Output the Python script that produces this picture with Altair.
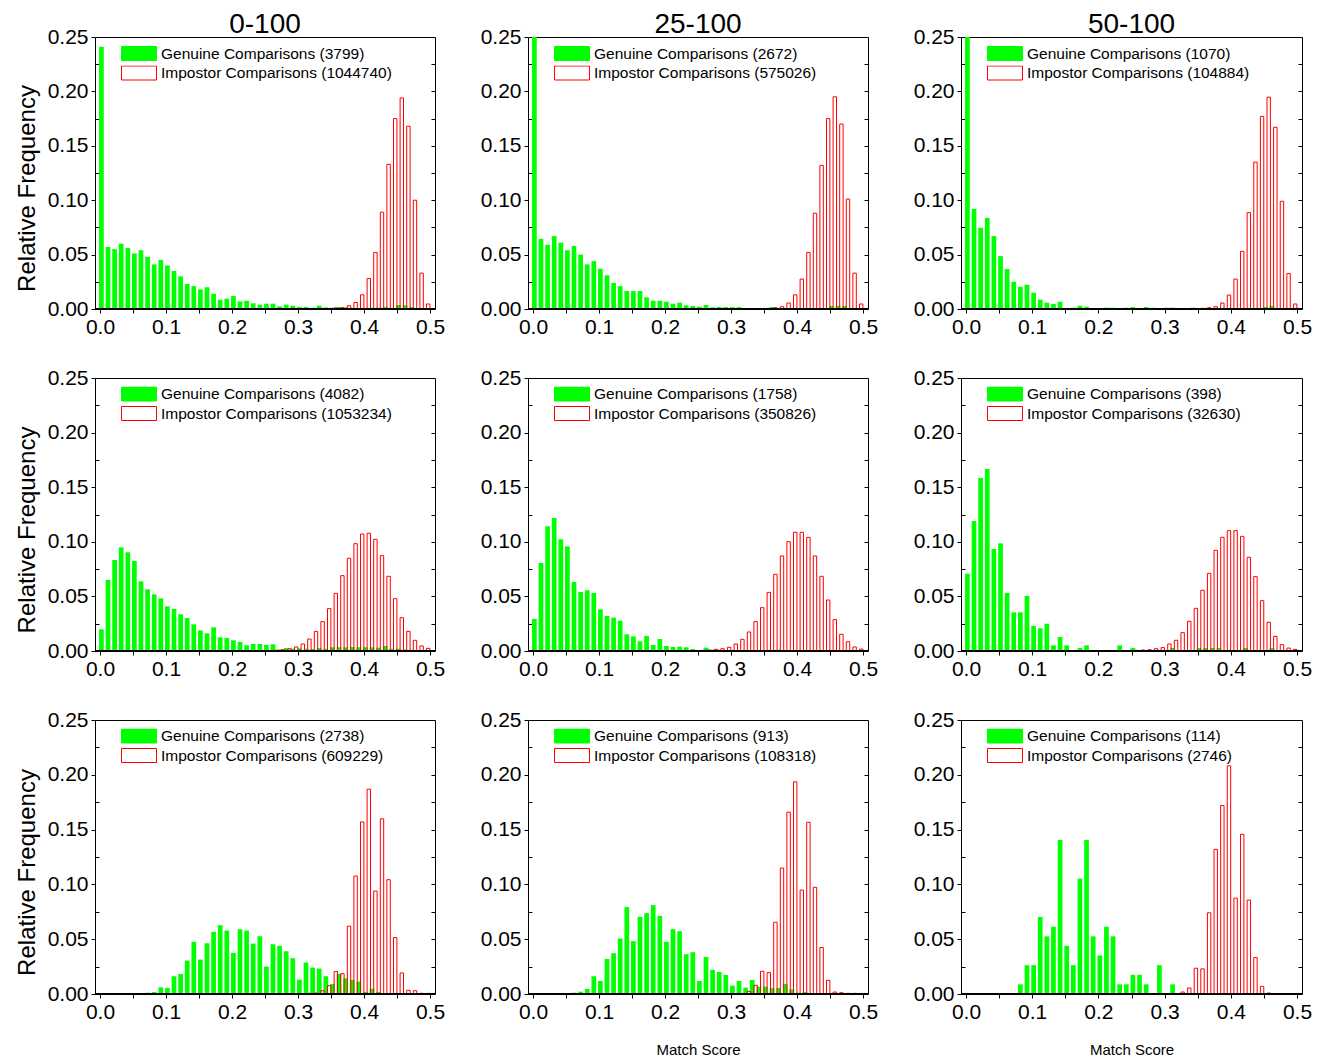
import altair as alt
import pandas as pd

# ---------------- data ----------------
BIN_START = [0.00, 0.01, 0.02, 0.03, 0.04, 0.05, 0.06, 0.07, 0.08, 0.09,
             0.10, 0.11, 0.12, 0.13, 0.14, 0.15, 0.16, 0.17, 0.18, 0.19,
             0.20, 0.21, 0.22, 0.23, 0.24, 0.25, 0.26, 0.27, 0.28, 0.29,
             0.30, 0.31, 0.32, 0.33, 0.34, 0.35, 0.36, 0.37, 0.38, 0.39,
             0.40, 0.41, 0.42, 0.43, 0.44, 0.45, 0.46, 0.47, 0.48, 0.49]

COLUMN_TITLES = ["0-100", "25-100", "50-100"]
GEN_COUNTS = [[3799, 2672, 1070], [4082, 1758, 398], [2738, 913, 114]]
IMP_COUNTS = [[1044740, 575026, 104884], [1053234, 350826, 32630], [609229, 108318, 2746]]

# row 1
G11 = [0.241, 0.057, 0.055, 0.060, 0.056, 0.051, 0.054, 0.048, 0.041, 0.045,
       0.040, 0.035, 0.030, 0.023, 0.021, 0.018, 0.020, 0.014, 0.0085, 0.0095,
       0.012, 0.007, 0.0076, 0.0052, 0.004, 0.0049, 0.0049, 0.0024, 0.004, 0.003,
       0.0018, 0.0018, 0.0012, 0.003, 0.0015, 0.0012, 0.0018, 0.0015, 0.0012, 0.0009,
       0.0009, 0.0012, 0.0012, 0.0018, 0.0012, 0.0037, 0.0034, 0.0018, 0.0009, 0.0006]
R11 = [0, 0, 0, 0, 0, 0, 0, 0, 0, 0,
       0, 0, 0, 0, 0, 0, 0, 0, 0, 0,
       0, 0, 0, 0, 0, 0, 0, 0, 0, 0,
       0, 0, 0, 0.0003, 0.0005, 0.001, 0.0012, 0.003, 0.006, 0.013,
       0.028, 0.052, 0.089, 0.133, 0.175, 0.194, 0.168, 0.100, 0.033, 0.0046]
G12 = [0.26, 0.0645, 0.059, 0.067, 0.061, 0.054, 0.058, 0.050, 0.041, 0.044,
       0.037, 0.031, 0.024, 0.021, 0.0165, 0.0165, 0.0165, 0.0107, 0.0076, 0.0076,
       0.0067, 0.0049, 0.0058, 0.0034, 0.0028, 0.0021, 0.0037, 0.0015, 0.0018, 0.0018,
       0.0018, 0.0018, 0.0006, 0.0009, 0.0009, 0.0006, 0.0018, 0.0009, 0.0009, 0.0006,
       0.0009, 0.0006, 0.0006, 0.0006, 0.0006, 0.0028, 0.003, 0.0028, 0.0006, 0.0003]
R12 = [0, 0, 0, 0, 0, 0, 0, 0, 0, 0,
       0, 0, 0, 0, 0, 0, 0, 0, 0, 0,
       0, 0, 0, 0, 0, 0, 0, 0, 0, 0,
       0, 0, 0, 0, 0.0003, 0.0006, 0.0012, 0.0021, 0.0055, 0.013,
       0.0275, 0.052, 0.088, 0.132, 0.175, 0.195, 0.170, 0.101, 0.033, 0.0046]
G13 = [0.26, 0.092, 0.0746, 0.0837, 0.067, 0.0486, 0.0367, 0.025, 0.0205, 0.0223,
       0.015, 0.0086, 0.0058, 0.0046, 0.0067, 0, 0.0012, 0.003, 0.0021, 0,
       0, 0.0012, 0.0012, 0, 0.0012, 0.0018, 0, 0.0018, 0.0012, 0,
       0.0012, 0.0012, 0, 0, 0.0012, 0.0006, 0, 0, 0, 0,
       0, 0, 0, 0, 0, 0.0018, 0.003, 0, 0, 0]
R13 = [0, 0, 0, 0, 0, 0, 0, 0, 0, 0,
       0, 0, 0, 0, 0, 0, 0, 0, 0, 0,
       0, 0, 0, 0, 0, 0, 0, 0, 0, 0,
       0, 0, 0, 0, 0, 0.0006, 0.0012, 0.0021, 0.0055, 0.0128,
       0.0275, 0.053, 0.0886, 0.135, 0.177, 0.1947, 0.167, 0.099, 0.0327, 0.0046]

# row 2
G21 = [0.0198, 0.065, 0.0833, 0.0949, 0.0904, 0.0824, 0.0638, 0.0565, 0.0519, 0.0482,
       0.0409, 0.0385, 0.0336, 0.0302, 0.0244, 0.0189, 0.0162, 0.0217, 0.0125, 0.0119,
       0.0098, 0.0082, 0.0052, 0.0064, 0.0064, 0.0055, 0.0061, 0.0015, 0.0027, 0.0021,
       0.0024, 0.0021, 0.0018, 0.0027, 0.0021, 0.0034, 0.0034, 0.0034, 0.0037, 0.0034,
       0.0034, 0.0034, 0.003, 0.0046, 0.0021, 0.0021, 0.0015, 0.0012, 0.0009, 0.0006]
R21 = [0, 0, 0, 0, 0, 0, 0, 0, 0, 0,
       0, 0, 0, 0, 0, 0, 0, 0, 0, 0,
       0, 0, 0, 0, 0, 0, 0.0006, 0.0012, 0.0021, 0.0037,
       0.0064, 0.011, 0.018, 0.0269, 0.0388, 0.0528, 0.069, 0.0849, 0.0983, 0.1071,
       0.1078, 0.1023, 0.0873, 0.0684, 0.0479, 0.0305, 0.018, 0.0098, 0.0046, 0.0024]
G22 = [0.0293, 0.0806, 0.1142, 0.1218, 0.1023, 0.0958, 0.0632, 0.054, 0.0556, 0.0531,
       0.0382, 0.0321, 0.0305, 0.0278, 0.0153, 0.0134, 0.0089, 0.0137, 0.0055, 0.011,
       0.0046, 0.0037, 0.004, 0.0034, 0.0018, 0.0009, 0.0031, 0.0012, 0.0012, 0.0009,
       0.0009, 0.0009, 0.0003, 0.0006, 0.0003, 0.0003, 0.0012, 0.0012, 0.0009, 0.0009,
       0.0003, 0.0006, 0.0009, 0.0006, 0.0006, 0.0003, 0.0009, 0.0003, 0.0003, 0.0003]
R22 = [0, 0, 0, 0, 0, 0, 0, 0, 0, 0,
       0, 0, 0, 0, 0, 0, 0, 0, 0, 0,
       0, 0, 0, 0, 0, 0.0006, 0.0009, 0.0015, 0.0021, 0.0034,
       0.0064, 0.0107, 0.0174, 0.0269, 0.0397, 0.0537, 0.0702, 0.087, 0.1001, 0.1087,
       0.1087, 0.1041, 0.087, 0.0684, 0.0467, 0.0287, 0.0153, 0.0085, 0.0037, 0.0018]
G23 = [0.0708, 0.119, 0.1584, 0.1667, 0.0934, 0.0986, 0.0531, 0.0354, 0.0354, 0.0504,
       0.0229, 0.0208, 0.025, 0.0052, 0.0128, 0.0052, 0, 0.0027, 0.0052, 0,
       0, 0, 0, 0.0052, 0, 0.0027, 0, 0, 0, 0,
       0, 0.0027, 0, 0, 0, 0.0027, 0.0027, 0.0027, 0.0027, 0,
       0, 0, 0.0027, 0, 0, 0, 0.0027, 0, 0, 0]
R23 = [0, 0, 0, 0, 0, 0, 0, 0, 0, 0,
       0, 0, 0, 0, 0, 0, 0, 0, 0, 0,
       0, 0, 0, 0, 0, 0.0006, 0.0009, 0.0012, 0.0021, 0.0031,
       0.0064, 0.0098, 0.0168, 0.0272, 0.0391, 0.0556, 0.0711, 0.0922, 0.1041, 0.1102,
       0.1102, 0.105, 0.0858, 0.0681, 0.0461, 0.0263, 0.0134, 0.0058, 0.0027, 0.0015]

# row 3
G31 = [0, 0, 0, 0, 0, 0, 0.0006, 0.0012, 0.0018, 0.0061,
       0.0055, 0.0162, 0.0183, 0.0305, 0.0476, 0.0314, 0.0463, 0.0567, 0.0628, 0.0579,
       0.0375, 0.0591, 0.0579, 0.046, 0.0527, 0.025, 0.0454, 0.0439, 0.039, 0.0326,
       0.0131, 0.0287, 0.0241, 0.0232, 0.0162, 0.0091, 0.0183, 0.0143, 0.0131, 0.0113,
       0.0018, 0.0049, 0.0018, 0.0006, 0, 0, 0, 0, 0, 0]
R31 = [0, 0, 0, 0, 0, 0, 0, 0, 0, 0,
       0, 0, 0, 0, 0, 0, 0, 0, 0, 0,
       0, 0, 0, 0, 0, 0, 0, 0, 0, 0,
       0, 0.0006, 0.0009, 0.003, 0.0076, 0.0204, 0.0186, 0.0619, 0.1076, 0.157,
       0.1869, 0.0939, 0.1598, 0.1043, 0.0515, 0.0192, 0.0034, 0.003, 0.0006, 0.0006]
G32 = [0, 0, 0, 0, 0, 0, 0.0012, 0.0021, 0.0046, 0.0162,
       0.0119, 0.032, 0.0372, 0.0506, 0.0793, 0.0482, 0.0704, 0.0738, 0.0811, 0.0713,
       0.0476, 0.0591, 0.0573, 0.0363, 0.0381, 0.0119, 0.0338, 0.022, 0.0201, 0.0174,
       0.0076, 0.0119, 0.0058, 0.0128, 0.0067, 0.0067, 0.0055, 0.0055, 0.0091, 0.0043,
       0.0012, 0.0018, 0.0009, 0, 0, 0, 0, 0, 0, 0]
R32 = [0, 0, 0, 0, 0, 0, 0, 0, 0, 0,
       0, 0, 0, 0, 0, 0, 0, 0, 0, 0,
       0, 0, 0, 0, 0, 0, 0, 0, 0, 0,
       0, 0, 0.0024, 0.0079, 0.0207, 0.0195, 0.0655, 0.1149, 0.1659, 0.1936,
       0.0948, 0.1567, 0.0973, 0.0424, 0.0125, 0.0018, 0.0012, 0.0006, 0.0006, 0]
G33 = [0, 0, 0, 0, 0, 0, 0, 0, 0.0088, 0.0263,
       0.0263, 0.0702, 0.0526, 0.0614, 0.1404, 0.0439, 0.0263, 0.1053, 0.1404, 0.0526,
       0.0351, 0.0614, 0.0526, 0.0088, 0.0088, 0.0175, 0.0175, 0.0088, 0, 0.0263,
       0, 0.0088, 0, 0, 0, 0, 0, 0, 0, 0,
       0, 0, 0, 0, 0, 0, 0, 0, 0, 0]
R33 = [0, 0, 0, 0, 0, 0, 0, 0, 0, 0,
       0, 0, 0, 0, 0, 0, 0, 0, 0, 0,
       0, 0, 0, 0, 0, 0, 0, 0, 0, 0,
       0, 0, 0.0018, 0.0055, 0.0235, 0.0229, 0.0741, 0.132, 0.172, 0.2082,
       0.0875, 0.1457, 0.0857, 0.0332, 0.007, 0.0009, 0.0003, 0, 0, 0]

GREEN = [[G11, G12, G13], [G21, G22, G23], [G31, G32, G33]]
RED = [[R11, R12, R13], [R21, R22, R23], [R31, R32, R33]]

X_TICKS = [0.0, 0.05, 0.1, 0.15, 0.2, 0.25, 0.3, 0.35, 0.4, 0.45, 0.5]
Y_MAJOR = [0.0, 0.05, 0.10, 0.15, 0.20, 0.25]
Y_MINOR = [0.025, 0.075, 0.125, 0.175, 0.225]
Y_INNER = [0.025, 0.05, 0.075, 0.10, 0.125, 0.15, 0.175, 0.20, 0.225]

# ---------------- style ----------------
FONT = "Liberation Sans"
WIDTHS = [340, 340, 341]
HEIGHTS = [272, 273, 274]
GREEN_C = "#00ff00"
RED_C = "#ff0000"
SWATCH = "M-1,-0.4H1V0.4H-1Z"


def panel(r, c):
    W, H = WIDTHS[c], HEIGHTS[r]
    g_lab = f"Genuine Comparisons ({GEN_COUNTS[r][c]})"
    i_lab = f"Impostor Comparisons ({IMP_COUNTS[r][c]})"
    gdf = pd.DataFrame({"score": BIN_START, "freq": GREEN[r][c], "series": g_lab})
    rdf = pd.DataFrame({"score": BIN_START, "freq": RED[r][c], "series": i_lab})

    xscale = alt.Scale(domain=[0, 0.5], nice=False, zero=False)
    yscale = alt.Scale(domain=[0, 0.25], nice=False)
    fill_scale = alt.Scale(domain=[g_lab, i_lab], range=[GREEN_C, "transparent"])
    stroke_scale = alt.Scale(domain=[g_lab, i_lab], range=[GREEN_C, RED_C])

    legend = alt.Legend(
        title=None, orient="none", legendX=26, legendY=9 if r == 0 else 8.5,
        symbolType=SWATCH, symbolSize=1225, symbolStrokeWidth=1,
        clipHeight=15, rowPadding=3.5, labelOffset=4, labelFontSize=15.5,
        labelFont=FONT, labelColor="black", padding=0, labelLimit=0,
    )

    xtitle = "Match Score" if (r == 2 and c > 0) else None
    xaxis_kw = dict(
        orient="bottom", values=X_TICKS,
        labelExpr="abs(datum.value*10 - round(datum.value*10)) < 0.001 ? format(datum.value, '.1f') : ''",
        tickSize=4, labelPadding=3, labelFontSize=21, labelFlush=False,
        labelOverlap=False, domain=False, grid=False,
        tickColor="black", labelColor="black",
    )
    if xtitle:
        xaxis = alt.Axis(title=xtitle, titleFontSize=15, titleY=60, titleColor="black",
                         titleBaseline="alphabetic", titleFontWeight="normal", **xaxis_kw)
    else:
        xaxis = alt.Axis(title=None, **xaxis_kw)

    yaxis_kw = dict(
        orient="left", values=Y_MAJOR, format=".2f", tickSize=4, labelPadding=3,
        labelFontSize=21, labelFlush=False, labelOverlap=False, domain=False, grid=False,
        tickColor="black", labelColor="black",
    )
    if c == 0:
        yaxis = alt.Axis(title="Relative Frequency", titleFontSize=24, titleX=-61,
                         titleY=H / 2 + 15, titleAngle=270, titleBaseline="alphabetic",
                         titleAlign="center", titleFontWeight="normal", titleColor="black",
                         **yaxis_kw)
    else:
        yaxis = alt.Axis(title=None, **yaxis_kw)

    # minor ticks pointing inward on the left edge
    yaxis_minor = alt.Axis(orient="right", offset=-W, values=Y_MINOR, labels=False,
                           tickSize=4, domain=False, grid=False, title=None,
                           tickColor="black")
    # inward ticks along the right edge
    yaxis_right = alt.Axis(orient="left", offset=-W, values=Y_INNER, labels=False,
                           tickSize=4, domain=False, grid=False, title=None,
                           tickColor="black")

    green = alt.Chart(gdf).transform_filter("datum.freq > 0").mark_bar(
        orient="vertical", size=4.7, xOffset=1.4, strokeWidth=0, clip=True, opacity=1
    ).encode(
        x=alt.X("score:Q", scale=xscale, axis=xaxis),
        y=alt.Y("freq:Q", scale=yscale, axis=yaxis),
        fill=alt.Fill("series:N", scale=fill_scale, legend=legend),
        stroke=alt.Stroke("series:N", scale=stroke_scale, legend=legend),
    )

    red = alt.Chart(rdf).transform_filter("datum.freq > 0").mark_bar(
        orient="vertical", size=3.4, xOffset=4.8, strokeWidth=1, clip=True, opacity=1
    ).encode(
        x=alt.X("score:Q", scale=xscale, axis=None),
        y=alt.Y("freq:Q", scale=yscale, axis=yaxis_minor),
        fill=alt.Fill("series:N", scale=fill_scale, legend=legend),
        stroke=alt.Stroke("series:N", scale=stroke_scale, legend=legend),
    )

    base = alt.Chart(gdf).mark_rule(color="black", strokeWidth=1).encode(
        y=alt.YDatum(0, type="quantitative", scale=yscale, axis=yaxis_right),
    )

    props = dict(width=W, height=H)
    if r == 0:
        props["title"] = alt.TitleParams(
            text=COLUMN_TITLES[c], fontSize=28, font=FONT, fontWeight="normal",
            offset=-13, anchor="middle", color="black", frame="group",
        )
    return alt.layer(green, red, base).resolve_axis(
        x="independent", y="independent"
    ).properties(**props)


panels = [panel(r, c) for r in range(3) for c in range(3)]

chart = alt.concat(
    *panels, columns=3, spacing={"row": 69, "column": 93}, bounds="flush"
).resolve_scale(
    fill="independent", stroke="independent"
).properties(
    padding={"left": 6, "top": 2, "right": 5, "bottom": 0},
    background="white",
).configure(
    font=FONT
).configure_view(
    stroke="#000000", strokeWidth=1
).configure_axis(
    grid=False, domain=False, tickColor="black", tickWidth=1,
    labelColor="black", titleColor="black", labelFont=FONT, titleFont=FONT,
)

chart.save("out.html", embed_options={"renderer": "svg", "actions": False})
